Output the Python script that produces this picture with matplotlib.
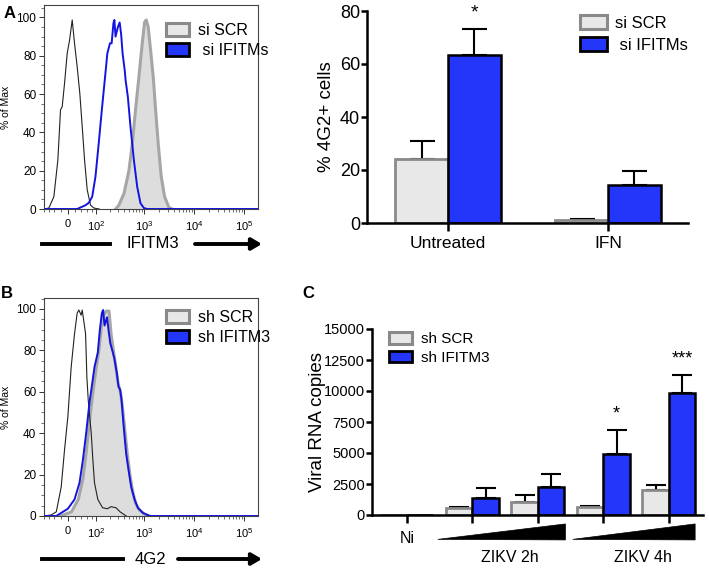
import numpy as np
import matplotlib
matplotlib.use("Agg")
import matplotlib.pyplot as plt
from matplotlib.patches import Patch, Polygon
from matplotlib.ticker import AutoMinorLocator
import matplotlib.transforms as mtransforms

plt.rcParams['font.family'] = ['Liberation Sans', 'DejaVu Sans']
plt.rcParams['mathtext.fontset'] = 'custom'
plt.rcParams['mathtext.rm'] = 'Liberation Sans'
plt.rcParams['mathtext.it'] = 'Liberation Sans:italic'

BLUE = '#2436fa'
GRAY_FILL = '#e8e8e8'
GRAY_EDGE = '#8a8a8a'
HIST_BLUE = '#1414e0'
HIST_FILL = '#dddddd'
HIST_EDGE = '#a6a6a6'

# ---- panel A histogram (IFITM3 staining) ----
a_iso_x = [-80, -59.5, -41.4, -28.6, -20.7, -15.8, -9.2, -1.8, 4.6, 12.1, 18.7, 26.5, 34.7, 42.6, 50.8, 60.8, 74.6, 90.5, 120]
a_iso_y = [0, 0.5, 6.4, 25.6, 51.7, 53.4, 65.6, 81.3, 88, 98.7, 86.5, 74.3, 60.4, 43, 25.6, 10, 2, 0.5, 0]
a_blue_x = [-80, 26.5, 42.6, 54.6, 67.4, 82.2, 98.5, 117, 137, 161, 180, 204, 221, 241, 252, 266,
            297, 323, 347, 370, 408, 427, 473, 534, 625, 729, 849, 993, 1155, 1.9e5]
a_blue_y = [0, 0, 1.2, 2, 3.3, 6.4, 16.9, 34.3, 51.7, 69, 81.3, 86.5, 86.5, 97, 98.7, 90,
            95, 97.4, 90.9, 81.3, 72.6, 67, 58.6, 43, 25.6, 11.6, 3, 0.5, 0, 0]
a_gray_x = [267, 311, 394, 497, 580, 676, 789, 920, 1024, 1106, 1212, 1351, 1527, 1700, 1923, 2205, 2580, 3143, 3667]
a_gray_y = [0, 2, 8, 20, 34, 52, 69, 86.5, 97.4, 98.7, 95, 83, 69, 52, 34, 17, 6.4, 0.8, 0]

# ---- panel B histogram (4G2 staining) ----
b_iso_x = [-80, -50.8, -33.5, -18.7, -9.2, 0, 9.2, 18.7, 26.5, 31.7, 39, 42.6, 47.2, 54.5, 59.5,
           64.9, 77.7, 85.4, 93.5, 111.6, 142, 180, 214, 272, 330, 438]
b_iso_y = [0, 0.5, 2, 14, 32, 48, 72, 88, 98, 99.5, 97, 99.5, 95, 88, 67,
           56, 40, 27, 16, 8, 4, 3.5, 4.5, 4, 2, 0]
b_blue_x = [-80, -33.5, 0, 18.7, 33.7, 44.9, 56.7, 70.3, 82.2, 93.5, 111.6, 124, 137, 146, 157, 177,
            190, 207, 234, 252, 283, 306, 330, 353, 390, 438, 497, 553, 645, 751, 948, 1292, 1.9e5]
b_blue_y = [0, 0, 3.5, 8, 16, 27, 40, 55, 64, 72, 79, 90, 98, 99.5, 92, 96,
            90, 83.5, 79, 76, 69, 62.5, 61, 56, 43, 30, 21, 14, 8, 4, 1.5, 0, 0]
b_gray_x = [-20, 10, 30, 45, 58, 72, 86, 100, 118, 135, 150, 170, 195, 215, 240, 270, 300, 335,
            370, 410, 460, 520, 590, 680, 800, 1000, 1300]
b_gray_y = [0, 2, 8, 18, 32, 48, 60, 70, 80, 92, 97, 99, 99, 88, 80, 72, 64, 60,
            52, 42, 30, 20, 12, 6, 3, 1, 0]

# ---- panel A bars ----
a_groups = ['Untreated', 'IFN']
a_scr = [24.2, 1.1]
a_scr_err = [6.9, 0.4]
a_ifitm = [63.4, 14.3]
a_ifitm_err = [9.7, 5.3]

# ---- panel C bars ----
c_groups = ['Ni', '2h low', '2h high', '4h low', '4h high']
c_scr = [0, 590, 1075, 670, 2015]
c_scr_err = [0, 40, 540, 60, 400]
c_ifitm = [0, 1345, 2260, 4945, 9810]
c_ifitm_err = [0, 860, 1020, 1910, 1450]


def fwd(v):
    return np.arcsinh(np.asarray(v, dtype=float) / 60.0)


def inv(s):
    return 60.0 * np.sinh(np.asarray(s, dtype=float))


fig = plt.figure(figsize=(7.09, 5.70), dpi=100)
W, H = 709.0, 570.0


def px_rect(x0, y0, x1, y1):
    return [x0 / W, 1 - y1 / H, (x1 - x0) / W, (y1 - y0) / H]


def hist_panel(rect, iso_x, iso_y, blue_x, blue_y, gray_x, gray_y, ytop, labels, leg_xy):
    ax = fig.add_axes(rect)
    ax.set_xscale('function', functions=(fwd, inv))
    ax.fill_between(gray_x, gray_y, color=HIST_FILL, lw=0, zorder=1)
    ax.plot(gray_x, gray_y, color=HIST_EDGE, lw=2.2, zorder=2)
    ax.plot(iso_x, iso_y, color='#222222', lw=0.8, zorder=3)
    ax.plot(blue_x, blue_y, color=HIST_BLUE, lw=1.4, zorder=4)
    ax.set_xlim(-80, 1.9e5)
    ax.set_ylim(0, ytop)
    ax.set_yticks([0, 20, 40, 60, 80, 100])
    ax.yaxis.set_minor_locator(AutoMinorLocator(4))
    ax.set_xticks([0, 1e2, 1e3, 1e4, 1e5],
                  labels=['0', '$10^2$', '$10^3$', '$10^4$', '$10^5$'])
    minor = [-80, -60, -40, -20, 20, 40, 60, 80]
    for d in [1e2, 1e3, 1e4]:
        minor += [d * k for k in range(2, 10)]
    ax.set_xticks(minor, minor=True)
    ax.tick_params(axis='both', which='major', direction='out', length=3.5, width=0.7,
                   labelsize=8.5, pad=2, color='#333333')
    ax.tick_params(axis='both', which='minor', direction='out', length=2, width=0.5, color='#333333')
    ax.tick_params(axis='x', labelsize=8, pad=4)
    for sp in ax.spines.values():
        sp.set_color('#444444')
        sp.set_linewidth(0.8)
    ax.set_ylabel('% of Max', fontsize=7.5, labelpad=4)
    handles = [Patch(facecolor=GRAY_FILL, edgecolor=GRAY_EDGE, lw=2.2),
               Patch(facecolor=BLUE, edgecolor='black', lw=2.0)]
    ax.legend(handles, labels, loc='upper left', bbox_to_anchor=leg_xy,
              bbox_transform=fig.transFigure, frameon=False, fontsize=11.5,
              handlelength=1.45, handleheight=0.85, handletextpad=0.55,
              labelspacing=0.3, borderpad=0, borderaxespad=0)
    return ax


def axis_arrow(y_px, line_end, text, text_x, arrow_start):
    y = 1 - y_px / H
    fig.add_artist(plt.Line2D([42 / W, line_end / W], [y, y], color='black', lw=2.8))
    fig.text(text_x / W, y, text, ha='center', va='center', fontsize=12)
    fig.add_artist(matplotlib.patches.FancyArrowPatch(
        (arrow_start / W, y), (262 / W, y), transform=fig.transFigure,
        arrowstyle='-|>,head_length=6,head_width=3.5', color='black', lw=2.8,
        mutation_scale=1, shrinkA=0, shrinkB=0))


# panel A histogram
hist_panel(px_rect(44, 5, 258, 209), a_iso_x, a_iso_y, a_blue_x, a_blue_y, a_gray_x, a_gray_y,
           106.5, ['si SCR', ' si IFITMs'], (166 / W, 1 - 23 / H))
axis_arrow(244, 110, 'IFITM3', 153, 195)

# panel B histogram
hist_panel(px_rect(44, 298, 258, 516), b_iso_x, b_iso_y, b_blue_x, b_blue_y, b_gray_x, b_gray_y,
           105.3, ['sh SCR', 'sh IFITM3'], (166 / W, 1 - 310 / H))
axis_arrow(559, 123, '4G2', 150, 178)


def style_bar_axes(ax, lab_size):
    ax.spines['top'].set_visible(False)
    ax.spines['right'].set_visible(False)
    ax.spines['left'].set_linewidth(1.8)
    ax.spines['bottom'].set_linewidth(1.8)
    ax.tick_params(axis='y', direction='out', length=4, width=1.8, pad=1, labelsize=lab_size)
    ax.tick_params(axis='x', direction='out', length=6, width=1.8, pad=3)


# panel A bar chart
axb = fig.add_axes(px_rect(367, 11, 688, 223))
xa = np.arange(len(a_groups))
bw = 0.33
axb.bar(xa - bw / 2, a_scr, bw, color=GRAY_FILL, edgecolor=GRAY_EDGE, lw=2.0, zorder=2)
axb.bar(xa + bw / 2, a_ifitm, bw, color=BLUE, edgecolor='black', lw=1.8, zorder=2)
axb.errorbar(xa - bw / 2, a_scr, yerr=[np.zeros(len(a_scr)), a_scr_err], fmt='none',
             ecolor='black', elinewidth=1.5, capsize=9, capthick=1.5, zorder=1)
axb.errorbar(xa + bw / 2, a_ifitm, yerr=[np.zeros(len(a_ifitm)), a_ifitm_err], fmt='none',
             ecolor='black', elinewidth=1.5, capsize=9, capthick=1.5, zorder=1)
axb.text(xa[0] + bw / 2, a_ifitm[0] + a_ifitm_err[0] + 3, '*', ha='center', va='bottom', fontsize=14)
axb.set_xlim(-0.506, 1.5)
axb.set_ylim(0, 80)
axb.set_yticks([0, 20, 40, 60, 80])
axb.set_xticks(xa, labels=a_groups, fontsize=12.5)
style_bar_axes(axb, 13)
axb.set_ylabel('% 4G2+ cells', fontsize=13.5)
axb.yaxis.set_label_coords(-0.1, 0.5)
axb.legend([Patch(facecolor=GRAY_FILL, edgecolor=GRAY_EDGE, lw=2.2),
            Patch(facecolor=BLUE, edgecolor='black', lw=2.0)],
           ['si SCR', ' si IFITMs'], loc='upper left', bbox_to_anchor=(580 / W, 1 - 15 / H),
           bbox_transform=fig.transFigure, frameon=False, fontsize=12,
           handlelength=1.6, handleheight=0.9, handletextpad=0.5,
           labelspacing=0.4, borderpad=0, borderaxespad=0)

# panel C bar chart
axc = fig.add_axes(px_rect(372, 329, 703, 515))
xc = np.arange(len(c_groups))
cw = 0.405
axc.bar(xc - cw / 2, c_scr, cw, color=GRAY_FILL, edgecolor=GRAY_EDGE, lw=2.0, zorder=2)
axc.bar(xc + cw / 2, c_ifitm, cw, color=BLUE, edgecolor='black', lw=1.8, zorder=2)
axc.errorbar(xc[1:] - cw / 2, c_scr[1:], yerr=[np.zeros(4), c_scr_err[1:]], fmt='none',
             ecolor='black', elinewidth=1.5, capsize=7, capthick=1.5, zorder=1)
axc.errorbar(xc[1:] + cw / 2, c_ifitm[1:], yerr=[np.zeros(4), c_ifitm_err[1:]], fmt='none',
             ecolor='black', elinewidth=1.5, capsize=7, capthick=1.5, zorder=1)
axc.text(xc[3] + cw / 2, c_ifitm[3] + c_ifitm_err[3] + 600, '*', ha='center', va='bottom', fontsize=13)
axc.text(xc[4] + cw / 2, c_ifitm[4] + c_ifitm_err[4] + 600, '***', ha='center', va='bottom', fontsize=13)
axc.set_xlim(-0.534, 4.52)
axc.set_ylim(0, 15000)
axc.set_yticks([0, 2500, 5000, 7500, 10000, 12500, 15000])
axc.set_xticks(xc, labels=[''] * len(xc))
style_bar_axes(axc, 10.5)
axc.set_ylabel('Viral RNA copies', fontsize=13.5)
axc.yaxis.set_label_coords(-0.138, 0.5)
axc.legend([Patch(facecolor=GRAY_FILL, edgecolor=GRAY_EDGE, lw=2.2),
            Patch(facecolor=BLUE, edgecolor='black', lw=2.0)],
           ['sh SCR', 'sh IFITM3'], loc='upper left', bbox_to_anchor=(389 / W, 1 - 332 / H),
           bbox_transform=fig.transFigure, frameon=False, fontsize=11,
           handlelength=1.5, handleheight=0.8, handletextpad=0.6,
           labelspacing=0.3, borderpad=0, borderaxespad=0)

trans = mtransforms.blended_transform_factory(axc.transData, axc.transAxes)
for x0, x1 in [(0.47, 2.42), (2.53, 4.40)]:
    axc.add_patch(Polygon([(x0, -0.131), (x1, -0.134), (x1, -0.048)], closed=True,
                          facecolor='black', edgecolor='black', lw=0.5,
                          transform=trans, clip_on=False))
axc.text(0, -0.124, 'Ni', transform=trans, ha='center', va='center', fontsize=11.5)
axc.text(1.57, -0.226, 'ZIKV 2h', transform=trans, ha='center', va='center', fontsize=11.5)
axc.text(3.6, -0.226, 'ZIKV 4h', transform=trans, ha='center', va='center', fontsize=11.5)

# panel letters
fig.text(10 / W, 1 - 14 / H, 'A', fontsize=12, fontweight='bold', ha='center', va='center')
fig.text(7 / W, 1 - 293 / H, 'B', fontsize=12, fontweight='bold', ha='center', va='center')
fig.text(308 / W, 1 - 293 / H, 'C', fontsize=12, fontweight='bold', ha='center', va='center')

fig.savefig('out.png', dpi=100)
